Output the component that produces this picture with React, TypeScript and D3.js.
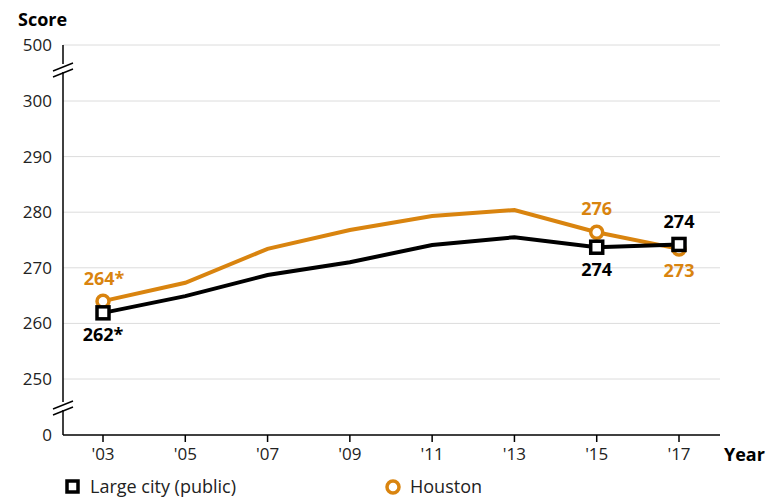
import React, { useRef, useEffect } from 'react';
import * as d3 from 'd3';

const yearLabels = ["'03", "'05", "'07", "'09", "'11", "'13", "'15", "'17"];
const largeCity = [261.9, 264.9, 268.7, 271.0, 274.1, 275.5, 273.7, 274.2];
const houston = [264.0, 267.3, 273.4, 276.8, 279.3, 280.4, 276.4, 273.4];
const yTicks = [250, 260, 270, 280, 290, 300];

// labelled points
const largeLabels = [
  { i: 0, text: '262*', dy: 22 },
  { i: 6, text: '274', dy: 22 },
  { i: 7, text: '274', dy: -23 },
];
const houstonLabels = [
  { i: 0, text: '264*', dy: -22 },
  { i: 6, text: '276', dy: -24 },
  { i: 7, text: '273', dy: 22 },
];

const width = 779;
const height = 498;
const orange = '#d9840f';
const font = "'Open Sans', 'Noto Sans', sans-serif";

const App = () => {
  const ref = useRef<SVGSVGElement>(null);

  useEffect(() => {
    const svg = d3.select(ref.current);
    svg.selectAll('*').remove();

    const x = d3.scalePoint<string>().domain(yearLabels).range([103, 679]);
    const y = d3.scaleLinear().domain([250, 300]).range([379, 101]);
    const yTop = 45;
    const yBottom = 435;
    const left = 63;
    const right = 720;

    const g = svg.append('g').style('font-family', font);

    // gridlines
    const gridVals = [...yTicks.map(d => y(d)), yTop];
    g.selectAll('line.grid')
      .data(gridVals)
      .join('line')
      .attr('class', 'grid')
      .attr('x1', left).attr('x2', right)
      .attr('y1', d => d).attr('y2', d => d)
      .attr('stroke', '#dcdcdc')
      .attr('stroke-width', 1);

    // y tick labels
    const yLabelData = [
      { v: '500', y: yTop },
      ...yTicks.map(t => ({ v: String(t), y: y(t) })),
      { v: '0', y: yBottom },
    ];
    g.selectAll('text.ytick')
      .data(yLabelData)
      .join('text')
      .attr('class', 'ytick')
      .attr('x', 52)
      .attr('y', d => d.y)
      .attr('dy', '0.35em')
      .attr('text-anchor', 'end')
      .attr('font-size', 17)
      .attr('fill', '#222')
      .text(d => d.v);

    // axes
    g.append('line')
      .attr('x1', left).attr('x2', left)
      .attr('y1', yTop).attr('y2', yBottom)
      .attr('stroke', '#000').attr('stroke-width', 1.5);
    g.append('line')
      .attr('x1', left).attr('x2', right)
      .attr('y1', yBottom).attr('y2', yBottom)
      .attr('stroke', '#000').attr('stroke-width', 1.5);

    // axis breaks
    [70, 408].forEach(by => {
      const bg = g.append('g');
      bg.append('rect')
        .attr('x', left - 8).attr('y', by - 6)
        .attr('width', 16).attr('height', 8)
        .attr('fill', '#fff');
      [-3, 3].forEach(o => {
        bg.append('line')
          .attr('x1', left - 10).attr('y1', by + o + 4)
          .attr('x2', left + 10).attr('y2', by + o - 4)
          .attr('stroke', '#000').attr('stroke-width', 1.5);
      });
    });

    // x ticks
    g.selectAll('line.xtick')
      .data(yearLabels)
      .join('line')
      .attr('class', 'xtick')
      .attr('x1', d => x(d)!).attr('x2', d => x(d)!)
      .attr('y1', yBottom).attr('y2', yBottom + 7)
      .attr('stroke', '#000').attr('stroke-width', 1.5);
    g.selectAll('text.xlabel')
      .data(yearLabels)
      .join('text')
      .attr('class', 'xlabel')
      .attr('x', d => x(d)!)
      .attr('y', yBottom + 25)
      .attr('text-anchor', 'middle')
      .attr('font-size', 17)
      .attr('fill', '#222')
      .text(d => d);

    // axis titles
    g.append('text')
      .attr('x', 18).attr('y', 26)
      .attr('font-size', 18).attr('font-weight', 'bold')
      .text('Score');
    g.append('text')
      .attr('x', 724).attr('y', yBottom + 26)
      .attr('font-size', 18).attr('font-weight', 'bold')
      .text('Year');

    const line = d3.line<number>()
      .x((d, i) => x(yearLabels[i])!)
      .y(d => y(d));

    // Houston
    g.append('path')
      .datum(houston)
      .attr('d', line)
      .attr('fill', 'none')
      .attr('stroke', orange)
      .attr('stroke-width', 4);

    // Large city
    g.append('path')
      .datum(largeCity)
      .attr('d', line)
      .attr('fill', 'none')
      .attr('stroke', '#000')
      .attr('stroke-width', 4);

    // Houston markers
    g.selectAll('circle.h')
      .data(houstonLabels)
      .join('circle')
      .attr('class', 'h')
      .attr('cx', d => x(yearLabels[d.i])!)
      .attr('cy', d => y(houston[d.i]))
      .attr('r', 6)
      .attr('fill', '#fff')
      .attr('stroke', orange)
      .attr('stroke-width', 3.5);

    // Large city markers
    g.selectAll('rect.l')
      .data(largeLabels)
      .join('rect')
      .attr('class', 'l')
      .attr('x', d => x(yearLabels[d.i])! - 6)
      .attr('y', d => y(largeCity[d.i]) - 6)
      .attr('width', 12).attr('height', 12)
      .attr('fill', '#fff')
      .attr('stroke', '#000')
      .attr('stroke-width', 3.5);

    // value labels
    g.selectAll('text.hl')
      .data(houstonLabels)
      .join('text')
      .attr('class', 'hl')
      .attr('x', d => x(yearLabels[d.i])! + (d.i === 0 ? 1 : 0))
      .attr('y', d => y(houston[d.i]) + d.dy)
      .attr('dy', '0.35em')
      .attr('text-anchor', 'middle')
      .attr('font-size', 18).attr('font-weight', 'bold')
      .attr('fill', orange)
      .text(d => d.text);
    g.selectAll('text.ll')
      .data(largeLabels)
      .join('text')
      .attr('class', 'll')
      .attr('x', d => x(yearLabels[d.i])!)
      .attr('y', d => y(largeCity[d.i]) + d.dy)
      .attr('dy', '0.35em')
      .attr('text-anchor', 'middle')
      .attr('font-size', 18).attr('font-weight', 'bold')
      .attr('fill', '#000')
      .text(d => d.text);

    // legend
    const lg = g.append('g');
    lg.append('rect')
      .attr('x', 67).attr('y', 481)
      .attr('width', 11).attr('height', 11)
      .attr('fill', '#fff').attr('stroke', '#000').attr('stroke-width', 3.5);
    lg.append('text')
      .attr('x', 90).attr('y', 487).attr('dy', '0.35em')
      .attr('font-size', 18).attr('fill', '#222')
      .text('Large city (public)');
    lg.append('circle')
      .attr('cx', 393).attr('cy', 487).attr('r', 6)
      .attr('fill', '#fff').attr('stroke', orange).attr('stroke-width', 3.5);
    lg.append('text')
      .attr('x', 410).attr('y', 487).attr('dy', '0.35em')
      .attr('font-size', 18).attr('fill', '#222')
      .text('Houston');
  }, []);

  return (
    <svg
      ref={ref}
      width={width}
      height={height}
      style={{ position: 'absolute', left: 0, top: 0, background: '#fff' }}
    />
  );
};

export default App;
